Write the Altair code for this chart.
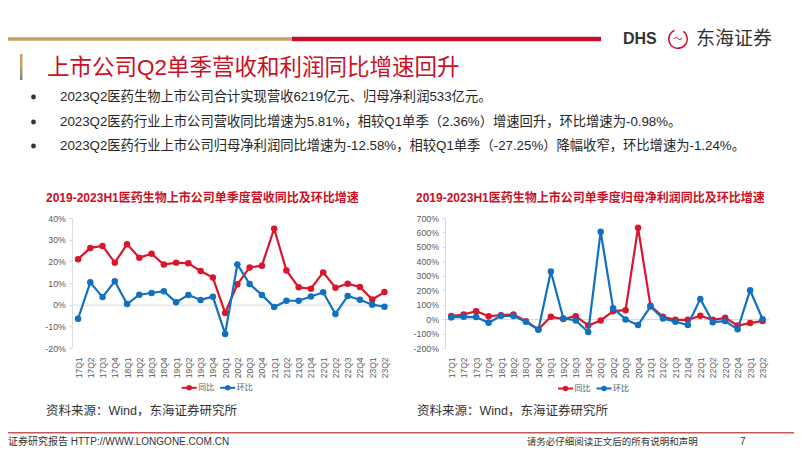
import altair as alt
import pandas as pd

# ---------------- data ----------------
quarters = ["17Q1", "17Q2", "17Q3", "17Q4", "18Q1", "18Q2", "18Q3", "18Q4",
            "19Q1", "19Q2", "19Q3", "19Q4", "20Q1", "20Q2", "20Q3", "20Q4",
            "21Q1", "21Q2", "21Q3", "21Q4", "22Q1", "22Q2", "22Q3", "22Q4",
            "23Q1", "23Q2"]
# revenue growth, %
rev_yoy = [21.0, 26.2, 27.1, 19.4, 27.9, 21.7, 23.5, 18.5, 19.4, 19.1, 15.5, 12.5,
           -3.8, 9.4, 17.2, 18.0, 35.1, 15.8, 8.0, 7.4, 14.9, 7.8, 9.7, 8.2, 2.36, 5.81]
rev_qoq = [-6.5, 10.3, 3.5, 10.8, 0.3, 4.6, 5.4, 6.2, 1.1, 4.5, 2.2, 3.7,
           -13.5, 18.6, 9.5, 4.5, -1.1, 1.8, 1.8, 3.8, 5.7, -4.3, 4.0, 2.3, 0.0, -0.98]
# net profit growth, %
np_yoy = [21, 32, 55, 20, 27, 32, -14, -71, 16, 0, 20, -44,
          -9, 55, 62, 633, 92, 16, -5, -5, 23, -5, 9, -44, -27.25, -12.58]
np_qoq = [12, 16, 14, -25, 23, 21, -18, -73, 330, 5, -9, -89,
          605, 76, -2, -41, 87, 5, -18, -41, 140, -21, -14, -71, 200, -1.24]

series_names = ["同比", "环比"]
rev_ticks = [-20, -10, 0, 10, 20, 30, 40]
np_ticks = [-200, -100, 0, 100, 200, 300, 400, 500, 600, 700]

headline = "上市公司Q2单季营收和利润同比增速回升"
bullets = [
    "2023Q2医药生物上市公司合计实现营收6219亿元、归母净利润533亿元。",
    "2023Q2医药行业上市公司营收同比增速为5.81%，相较Q1单季（2.36%）增速回升，环比增速为-0.98%。",
    "2023Q2医药行业上市公司归母净利润同比增速为-12.58%，相较Q1单季（-27.25%）降幅收窄，环比增速为-1.24%。",
]
title_rev = "2019-2023H1医药生物上市公司单季度营收同比及环比增速"
title_np = "2019-2023H1医药生物上市公司单季度归母净利润同比及环比增速"
source_txt = "资料来源：Wind，东海证券研究所"
footer_left = "证券研究报告 HTTP://WWW.LONGONE.COM.CN"
footer_right = "请务必仔细阅读正文后的所有说明和声明"
page_no = "7"

# ---------------- styles ----------------
W, H = 786, 440
RED = "#d9162c"
BLUE = "#1170bf"
TITLE_RED = "#cc0f24"
GOLD = "#c9a063"
DARK = "#333333"
AXIS_C = "#d9d9d9"
LAB_C = "#595959"
FONT = "Liberation Sans, Noto Sans CJK SC"
CJK = "Noto Sans CJK SC"

Y_BOT, Y_TOP = 340, 210
LABEL_TOP = 349
one = pd.DataFrame({"k": [0]})


def series_df(vals):
    return pd.DataFrame({"quarter": quarters, "value": vals})


def panel(yoy, qoq, xr, ydom, yticks):
    xsc = alt.Scale(type="point", domain=quarters, range=xr, padding=0.5)
    ysc = alt.Scale(domain=ydom, range=[Y_BOT, Y_TOP], nice=False, zero=False)
    zero_y = Y_BOT - (0 - ydom[0]) / (ydom[1] - ydom[0]) * (Y_BOT - Y_TOP)
    layers = []
    first = True
    for vals, col in ((yoy, RED), (qoq, BLUE)):
        base = alt.Chart(series_df(vals))
        if first:
            xax = alt.Axis(orient="bottom", offset=zero_y - H, ticks=False,
                           domainColor=AXIS_C, domainWidth=1, labelAngle=270,
                           labelPadding=LABEL_TOP - zero_y, labelFont="Liberation Sans",
                           labelFontSize=8.5, labelColor=LAB_C, labelOverlap=False,
                           title=None, grid=False)
            yax = alt.Axis(orient="left", offset=-xr[0], values=yticks,
                           labelExpr="datum.value + '%'", tickSize=3, tickColor=AXIS_C,
                           domainColor=AXIS_C, labelPadding=3.5, labelFont="Liberation Sans",
                           labelFontSize=8.8, labelColor=LAB_C, title=None, grid=False)
        else:
            xax = None
            yax = None
        first = False
        line = base.mark_line(color=col, strokeWidth=2.2).encode(
            x=alt.X("quarter:O", scale=xsc, sort=quarters, axis=xax),
            y=alt.Y("value:Q", scale=ysc, axis=yax),
        )
        pts = base.mark_point(color=col, filled=True, opacity=1, size=42).encode(
            x=alt.X("quarter:O", scale=xsc, sort=quarters, axis=None),
            y=alt.Y("value:Q", scale=ysc, axis=None),
        )
        layers += [line, pts]
    return layers


def txt(s, x, y, size, color, weight="normal", align="left", font=FONT):
    return alt.Chart(one).mark_text(text=s, fontSize=size, color=color, fontWeight=weight,
                                    align=align, baseline="middle", font=font).encode(
        x=alt.value(x), y=alt.value(y))


def rect(x, x2, y, y2, fill):
    return alt.Chart(one).mark_rect(fill=fill).encode(
        x=alt.value(x), x2=alt.value(x2), y=alt.value(y), y2=alt.value(y2))


def legend(x0, y):
    out = []
    for i, (name, col) in enumerate(zip(series_names, [RED, BLUE])):
        xs = x0 + i * 38.5
        out.append(alt.Chart(one).mark_rule(color=col, strokeWidth=2).encode(
            x=alt.value(xs), x2=alt.value(xs + 15), y=alt.value(y)))
        out.append(alt.Chart(one).mark_point(color=col, filled=True, opacity=1, size=30).encode(
            x=alt.value(xs + 7.5), y=alt.value(y)))
        out.append(txt(name, xs + 16.5, y, 8, LAB_C, font=CJK))
    return out


deco = [
    rect(0, 284, 29.3, 32.7, GOLD),
    rect(284, 593, 28.7, 33.3, "#c8102e"),
    alt.Chart(one).mark_rect(fill=alt.LinearGradient(
        gradient="linear", x1=0, x2=0, y1=0, y2=1,
        stops=[alt.GradientStop(color=GOLD, offset=0),
               alt.GradientStop(color="#c9a063", offset=0.45),
               alt.GradientStop(color="#6f83a0", offset=1)])).encode(
        x=alt.value(12), x2=alt.value(14.5), y=alt.value(46), y2=alt.value(72)),
    txt("DHS", 615, 31, 16, DARK, weight="bold", font="Liberation Sans"),
    alt.Chart(one).mark_arc(color="#c8102e", theta=0.6, theta2=5.9, innerRadius=8.5,
                            outerRadius=10).encode(x=alt.value(670), y=alt.value(31)),
    txt("〜", 670, 31, 9, "#c8102e", align="center", font=CJK),
    txt("东海证券", 688, 31, 19, DARK, font=CJK),
    txt(headline, 39, 60, 22.5, TITLE_RED, font=FONT),
]
for i, b in enumerate(bullets):
    yb = [89, 114, 138][i]
    deco.append(alt.Chart(one).mark_point(color=DARK, filled=True, opacity=1, size=24).encode(
        x=alt.value(25.5), y=alt.value(yb)))
    deco.append(txt(b, 52, yb, 13.3, "#262626"))

deco += [
    txt(title_rev, 38, 190, 12, TITLE_RED, weight="bold"),
    txt(title_np, 408, 190, 12, TITLE_RED, weight="bold"),
    txt(source_txt, 38, 403, 12.5, DARK),
    txt(source_txt, 409, 403, 12.5, DARK),
    alt.Chart(one).mark_rule(color="#c9575a", strokeWidth=1.5).encode(
        x=alt.value(0), x2=alt.value(W), y=alt.value(424.7)),
    txt(footer_left, 0, 433.5, 10, DARK),
    txt(footer_right, 518.7, 433.5, 9.5, DARK, font=CJK),
    txt(page_no, 732, 433.5, 10, DARK),
]

p1 = panel(rev_yoy, rev_qoq, [63.9, 382.6], [-20, 40], rev_ticks)
p2 = panel(np_yoy, np_qoq, [437, 760.8], [-200, 700], np_ticks)

chart = alt.layer(*deco, *p1, *p2, *legend(173.7, 379.8), *legend(550, 380.5)).resolve_scale(
    x="independent", y="independent"
).resolve_axis(x="independent", y="independent").properties(
    width=W, height=H, padding=0,
    autosize=alt.AutoSizeParams(type="none"),
    background="white",
).configure_view(stroke=None)

chart.save("out.html", embed_options={"renderer": "svg", "actions": False})
